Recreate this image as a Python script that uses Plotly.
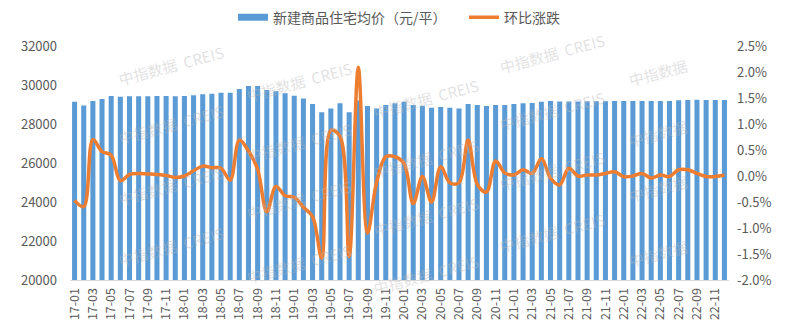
import plotly.graph_objects as go

# Monthly labels 17-01 … 22-12
months = [f"{y:02d}-{m:02d}" for y in range(17, 23) for m in range(1, 13)]

# Average price of new commercial housing (yuan / m²)
avg_price = [
    29140, 28950, 29180, 29280, 29430, 29400, 29420, 29420, 29420, 29430, 29430, 29420,
    29430, 29470, 29520, 29550, 29600, 29600, 29800, 29950, 29950, 29750, 29680, 29580,
    29450, 29310, 29020, 28600, 28800, 29060, 28600, 29200, 28920, 28800, 28970, 29060,
    29140, 28970, 28940, 28830, 28870, 28830, 28800, 29020, 28970, 28920, 28970, 28980,
    29020, 29060, 29080, 29140, 29180, 29160, 29150, 29160, 29170, 29170, 29170, 29180,
    29180, 29180, 29180, 29180, 29180, 29180, 29220, 29230, 29240, 29230, 29230, 29230,
]

# Month-on-month change (%)
mom_change = [
    -0.47, -0.59, 0.70, 0.47, 0.40, -0.09, 0.03, 0.05, 0.04, 0.03, 0.01, -0.03,
    0.00, 0.10, 0.19, 0.16, 0.15, -0.08, 0.69, 0.48, 0.13, -0.69, -0.20, -0.38,
    -0.41, -0.60, -0.78, -1.58, 0.88, 0.76, -1.55, 2.09, -1.10, -0.12, 0.37, 0.37,
    0.24, -0.53, -0.01, -0.50, 0.18, -0.13, -0.13, 0.69, -0.16, -0.31, 0.29, 0.06,
    0.02, 0.12, 0.05, 0.33, -0.04, -0.17, 0.15, 0.00, 0.02, 0.02, 0.05, 0.08,
    -0.01, 0.00, 0.05, -0.04, 0.02, -0.01, 0.12, 0.12, 0.05, -0.01, -0.01, 0.02,
]

left_ticks = [20000, 22000, 24000, 26000, 28000, 30000, 32000]
right_ticks = [-2.0, -1.5, -1.0, -0.5, 0.0, 0.5, 1.0, 1.5, 2.0, 2.5]

BLUE = "#5B9BD5"
ORANGE = "#ED7D31"
GREY = "#595959"
FONT = "Noto Sans CJK SC"

fig = go.Figure()

fig.add_trace(go.Bar(
    x=months, y=avg_price, marker_color=BLUE, marker_line_width=0,
    showlegend=False, yaxis="y",
))
fig.add_trace(go.Scatter(
    x=months, y=mom_change, mode="lines",
    line=dict(color=ORANGE, width=3.5, shape="spline", smoothing=1.0),
    showlegend=False, yaxis="y2",
))

# Legend entries (wide swatch for the bar series)
fig.add_trace(go.Scatter(
    x=[None], y=[None], mode="lines", name="新建商品住宅均价（元/平）\u00a0\u00a0\u00a0\u00a0",
    line=dict(color=BLUE, width=7), yaxis="y",
))
fig.add_trace(go.Scatter(
    x=[None], y=[None], mode="lines", name="环比涨跌",
    line=dict(color=ORANGE, width=3.5), yaxis="y2",
))

# Faint "中指数据 CREIS" watermark grid
wm_full = [
    (122, 28), (122, 112), (122, 198), (122, 285),
    (278, 50), (278, 137), (278, 218), (278, 310),
    (432, 75), (432, 160), (432, 242), (432, 325),
    (585, 10), (585, 92), (585, 177), (585, 265),
]
wm_short = [(713, 38), (713, 125), (713, 203), (713, 295)]
annotations = []
for (px, py), txt in [(p, "中指数据  CREIS") for p in wm_full] + [(p, "中指数据") for p in wm_short]:
    annotations.append(dict(
        x=px / 799, y=1 - py / 333, xref="paper", yref="paper",
        text=txt, showarrow=False, textangle=-15,
        font=dict(family=FONT, size=15, color="rgba(185,185,185,0.42)"),
        xanchor="center", yanchor="middle",
    ))

fig.update_layout(
    width=799, height=333,
    margin=dict(l=70, r=70, t=46, b=53, autoexpand=False),
    paper_bgcolor="white", plot_bgcolor="white",
    bargap=0.45,
    font=dict(family=FONT, size=13, color=GREY),
    showlegend=True,
    legend=dict(
        orientation="h", x=0.5, xanchor="center", y=0.995, yanchor="top",
        yref="container", font=dict(family=FONT, size=14, color=GREY),
        itemwidth=30, traceorder="normal",
    ),
    xaxis=dict(
        type="category", tickangle=-90, showgrid=False, showline=True,
        linecolor="#D9D9D9", linewidth=1, ticks="", ticklabelstandoff=2,
        tickvals=months[::2], ticktext=months[::2],
        tickfont=dict(family=FONT, size=12.5, color=GREY),
    ),
    yaxis=dict(
        range=[20000, 32000], tickvals=left_ticks,
        ticktext=[str(v) for v in left_ticks], showgrid=False,
        zeroline=False, showline=False, ticks="", ticklabelstandoff=12,
        tickfont=dict(family=FONT, size=13, color=GREY),
    ),
    yaxis2=dict(
        range=[-2.0, 2.5], tickvals=right_ticks,
        ticktext=[f"{v:.1f}%" for v in right_ticks],
        overlaying="y", side="right", showgrid=False, zeroline=False,
        showline=False, ticks="", ticklabelstandoff=7,
        tickfont=dict(family=FONT, size=13, color=GREY),
    ),
    annotations=annotations,
)

fig.write_html("out.html")
